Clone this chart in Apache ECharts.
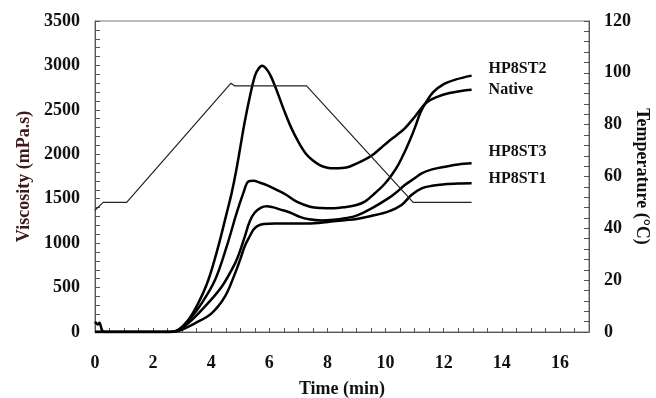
<!DOCTYPE html>
<html>
<head>
<meta charset="utf-8">
<script src="https://cdn.jsdelivr.net/npm/echarts@6/dist/echarts.min.js"></script>
<style>html,body{margin:0;padding:0;background:#fff}#c{width:656px;height:398px}</style>
</head>
<body>
<div id="c"></div>
<script>
// ---- data ----
const xTickLabels = [0, 2, 4, 6, 8, 10, 12, 14, 16];

const nativeTime = [0, 0.1, 0.15, 0.25, 0.35, 2.6, 2.87, 3.21, 3.55, 3.9, 4.24, 4.53, 4.7, 4.85, 5.0, 5.15, 5.33, 5.5, 5.62, 5.75, 5.9, 6.05, 6.25, 6.5, 6.75, 7.0, 7.25, 7.5, 7.75, 8.0, 8.25, 8.5, 8.75, 9.0, 9.25, 9.5, 9.8, 10.09, 10.4, 10.66, 11.0, 11.4, 11.8, 12.2, 12.6, 12.96];
const nativeVisc = [115, 85, 105, 15, 0, 0, 22, 135, 322, 585, 960, 1335, 1560, 1800, 2080, 2360, 2650, 2880, 2960, 2995, 2960, 2880, 2720, 2500, 2300, 2140, 2010, 1930, 1875, 1848, 1842, 1846, 1860, 1895, 1935, 1980, 2060, 2142, 2220, 2292, 2420, 2580, 2650, 2690, 2712, 2725];

const hp8st2Time = [0, 2.6, 2.9, 3.33, 3.67, 4.13, 4.53, 4.87, 5.1, 5.27, 5.45, 5.68, 5.91, 6.25, 6.59, 6.94, 7.4, 7.8, 8.2, 8.6, 9.0, 9.3, 9.63, 9.95, 10.21, 10.45, 10.66, 10.85, 11.0, 11.2, 11.4, 11.64, 12.0, 12.4, 12.96];
const hp8st2Visc = [0, 0, 30, 172, 322, 585, 960, 1335, 1560, 1692, 1703, 1680, 1654, 1600, 1542, 1467, 1410, 1395, 1392, 1405, 1429, 1470, 1561, 1660, 1767, 1890, 2029, 2170, 2292, 2470, 2590, 2700, 2790, 2840, 2885];

const hp8st3Time = [0, 2.6, 2.9, 3.33, 3.78, 4.36, 4.82, 5.0, 5.16, 5.33, 5.5, 5.7, 5.91, 6.1, 6.36, 6.71, 7.05, 7.37, 7.8, 8.2, 8.6, 9.0, 9.52, 10.09, 10.4, 10.66, 11.0, 11.24, 11.6, 12.04, 12.5, 12.96];
const hp8st3Visc = [0, 0, 25, 135, 285, 510, 773, 920, 1080, 1250, 1345, 1398, 1415, 1405, 1380, 1345, 1295, 1268, 1255, 1262, 1280, 1310, 1392, 1504, 1580, 1654, 1730, 1786, 1830, 1860, 1885, 1898];

const hp8st1Time = [0, 2.6, 2.85, 3.44, 4.01, 4.47, 4.82, 5.0, 5.16, 5.33, 5.45, 5.6, 5.8, 6.2, 6.7, 7.2, 7.7, 8.2, 8.6, 9.0, 9.5, 10.09, 10.55, 10.89, 11.24, 11.6, 12.04, 12.5, 12.96];
const hp8st1Visc = [0, 0, 10, 98, 210, 397, 660, 820, 970, 1080, 1150, 1195, 1215, 1222, 1222, 1220, 1228, 1245, 1258, 1272, 1305, 1354, 1429, 1542, 1617, 1645, 1662, 1670, 1673];

const tempTime = [0, 0.28, 1.09, 4.68, 4.8, 7.28, 10.95, 12.96];
const tempValue = [47, 50, 50, 96, 95, 95, 50, 50];

// ---- build ----
const zip = (a, b) => a.map((t, i) => [t, b[i]]);
const FONT = 'Liberation Serif';

const labelStyle = (dy) => ({
  show: true, formatter: '{a}', distance: 17, offset: [0, dy],
  fontFamily: FONT, fontWeight: 'bold', fontSize: 16, color: '#111'
});

const viscLine = (name, t, v, dy) => ({
  name, type: 'line', data: zip(t, v), showSymbol: false,
  smooth: 0.35,
  lineStyle: { color: '#000', width: 2.5 },
  endLabel: labelStyle(dy), labelLayout: { hideOverlap: false }
});

const tickColor = '#555';
const axisCommon = (labelMargin) => ({
  nameMoveOverlap: false,
  axisLine: { show: true, lineStyle: { color: tickColor, width: 1 } },
  axisTick: { show: true, inside: true, length: 5, lineStyle: { color: tickColor } },
  minorTick: { show: true, splitNumber: 5, length: 5, lineStyle: { color: tickColor } },
  axisLabel: { formatter: (v) => String(v), fontFamily: FONT, fontWeight: 'bold', fontSize: 18, color: '#111', margin: labelMargin },
  splitLine: { show: false }, minorSplitLine: { show: false }
});

const chart = echarts.init(document.getElementById('c'), null, { renderer: 'canvas' });
chart.setOption({
  animation: false,
  backgroundColor: '#fff',
  grid: { left: 95, right: 67, top: 21, bottom: 66, show: true, borderColor: '#777', borderWidth: 1, outerBoundsMode: 'none', containLabel: false },
  xAxis: {
    type: 'value', min: 0, max: 17, interval: 0.5,
    name: 'Time (min)', nameLocation: 'middle', nameGap: 48,
    nameTextStyle: { fontFamily: FONT, fontWeight: 'bold', fontSize: 18, color: '#111' },
    axisLine: { show: true, lineStyle: { color: tickColor, width: 1 } },
    axisTick: { show: true, inside: true, length: 4, lineStyle: { color: tickColor } },
    axisLabel: {
      formatter: (v) => (xTickLabels.indexOf(v) >= 0 ? String(v) : ''),
      fontFamily: FONT, fontWeight: 'bold', fontSize: 18, color: '#111', margin: 22
    },
    splitLine: { show: false }
  },
  yAxis: [
    Object.assign({
      type: 'value', min: 0, max: 3500, interval: 500, position: 'left',
      name: 'Viscosity (mPa.s)', nameLocation: 'middle', nameGap: 62,
      nameTextStyle: { fontFamily: FONT, fontWeight: 'bold', fontSize: 18, color: '#3a1a1a' }
    }, axisCommon(15)),
    Object.assign({
      type: 'value', min: 0, max: 120, interval: 20, position: 'right',
      name: 'Temperature (°C)', nameLocation: 'middle', nameGap: 44, nameRotate: -90,
      nameTextStyle: { fontFamily: FONT, fontWeight: 'bold', fontSize: 18, color: '#111' }
    }, axisCommon(15))
  ],
  series: [
    viscLine('HP8ST2', hp8st2Time, hp8st2Visc, -7),
    viscLine('Native', nativeTime, nativeVisc, 0),
    viscLine('HP8ST3', hp8st3Time, hp8st3Visc, -11),
    viscLine('HP8ST1', hp8st1Time, hp8st1Visc, -4),
    {
      name: 'Temperature', type: 'line', yAxisIndex: 1, data: zip(tempTime, tempValue),
      showSymbol: false, lineStyle: { color: '#222', width: 1.2 }
    }
  ]
});
</script>
</body>
</html>
